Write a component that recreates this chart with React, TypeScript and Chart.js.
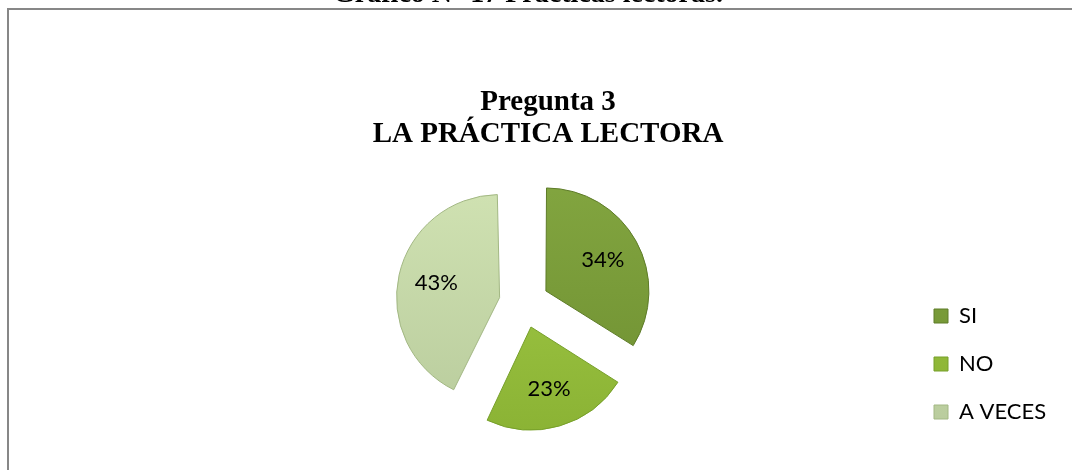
import React, { useEffect, useRef } from 'react';
import { Chart, registerables } from 'chart.js';

Chart.register(...registerables);

const categories = ['SI', 'NO', 'A VECES'];
const percentages = [34, 23, 43];
const sliceTopColors = ['#84A741', '#A3CB48', '#D2E4B4'];
const sliceBottomColors = ['#6E8F31', '#88B032', '#B8CB9C'];
const sliceBorders = ['#5E7C28', '#77A02A', '#A3B884'];
const chartTitle = ['Pregunta 3', 'LA PRÁCTICA LECTORA'];
const caption = 'Gráfico N° 17 Prácticas lectoras.';

const SERIF = '"Liberation Serif", "Times New Roman", serif';
const SANS = 'Lato, "Noto Sans", sans-serif';

const framePlugin = {
  id: 'frame',
  beforeDraw(chart: any) {
    const { ctx, width, height } = chart;
    ctx.save();
    ctx.fillStyle = '#ffffff';
    ctx.fillRect(0, 0, width, height);
    ctx.strokeStyle = '#878787';
    ctx.lineWidth = 2;
    ctx.strokeRect(8, 9, width + 20, height + 20);
    ctx.fillStyle = '#000000';
    ctx.font = 'bold 28px ' + SERIF;
    ctx.textAlign = 'center';
    ctx.textBaseline = 'alphabetic';
    ctx.fillText(caption, 528, 2);
    ctx.restore();
  },
};

// keep every slice at the same outer radius when exploded
const radiusFixPlugin = {
  id: 'radiusFix',
  afterDatasetsUpdate(chart: any) {
    const meta = chart.getDatasetMeta(0);
    meta.data.forEach((arc: any) => {
      const off = (arc.options.offset || 0) / 4;
      const fix = 1 - Math.sin(Math.min(Math.PI, arc.circumference || 0));
      arc.outerRadius = arc.outerRadius - off * fix;
    });
  },
};

// let the legend labels run past the narrow legend box
const legendClipPlugin = {
  id: 'legendClip',
  afterLayout(chart: any) {
    const lg = chart.legend;
    if (lg) {
      lg.right = chart.width;
      lg.width = lg.right - lg.left;
    }
  },
};

const sliceLabelPlugin = {
  id: 'sliceLabels',
  afterDatasetsDraw(chart: any) {
    const { ctx } = chart;
    const meta = chart.getDatasetMeta(0);
    const R = meta.controller.outerRadius;
    ctx.save();
    ctx.fillStyle = '#000000';
    ctx.font = '22px ' + SANS;
    ctx.textAlign = 'center';
    ctx.textBaseline = 'middle';
    meta.data.forEach((arc: any, i: number) => {
      const mid = (arc.startAngle + arc.endAngle) / 2;
      const off = (arc.options.offset || 0) / 4;
      const d = off + 0.63 * R;
      const x = arc.x + Math.cos(mid) * d;
      const y = arc.y + Math.sin(mid) * d;
      ctx.fillText(percentages[i] + '%', x, y);
    });
    ctx.restore();
  },
};

function sliceFill(ctx: any) {
  const i = ctx.dataIndex;
  const chart = ctx.chart;
  const area = chart.chartArea;
  if (!area) return sliceTopColors[i];
  const cy = (area.top + area.bottom) / 2;
  const g = chart.ctx.createLinearGradient(0, cy - 135, 0, cy + 135);
  g.addColorStop(0, sliceTopColors[i]);
  g.addColorStop(1, sliceBottomColors[i]);
  return g;
}

export default function App() {
  const canvasRef = useRef<HTMLCanvasElement | null>(null);

  useEffect(() => {
    if (!canvasRef.current) return;
    Chart.defaults.font.family = SANS;
    const chart = new Chart(canvasRef.current, {
      type: 'pie',
      data: {
        labels: categories,
        datasets: [
          {
            data: percentages,
            backgroundColor: sliceFill,
            borderColor: sliceBorders,
            borderWidth: 1,
            offset: 100,
          },
        ],
      },
      options: {
        responsive: false,
        animation: false,
        radius: 103,
        layout: { padding: { left: 140, right: 116, top: 9, bottom: 21 } },
        plugins: {
          title: {
            display: true,
            text: chartTitle,
            color: '#000000',
            font: { family: SERIF, size: 29, weight: 'bold', lineHeight: '32px' },
            padding: { top: 78, bottom: 6 },
          },
          legend: {
            position: 'right',
            align: 'end',
            maxWidth: 48,
            labels: {
              boxWidth: 14,
              boxHeight: 14,
              padding: 26,
              color: '#000000',
              font: { family: SANS, size: 22 },
            },
          },
          tooltip: { enabled: false },
        },
      } as any,
      plugins: [framePlugin, radiusFixPlugin, legendClipPlugin, sliceLabelPlugin],
    });
    return () => chart.destroy();
  }, []);

  return (
    <div style={{ position: 'fixed', left: 0, top: 0, width: 1072, height: 470, overflow: 'hidden', background: '#fff' }}>
      <canvas ref={canvasRef} width={1072} height={470} style={{ display: 'block', width: 1072, height: 470 }} />
    </div>
  );
}
